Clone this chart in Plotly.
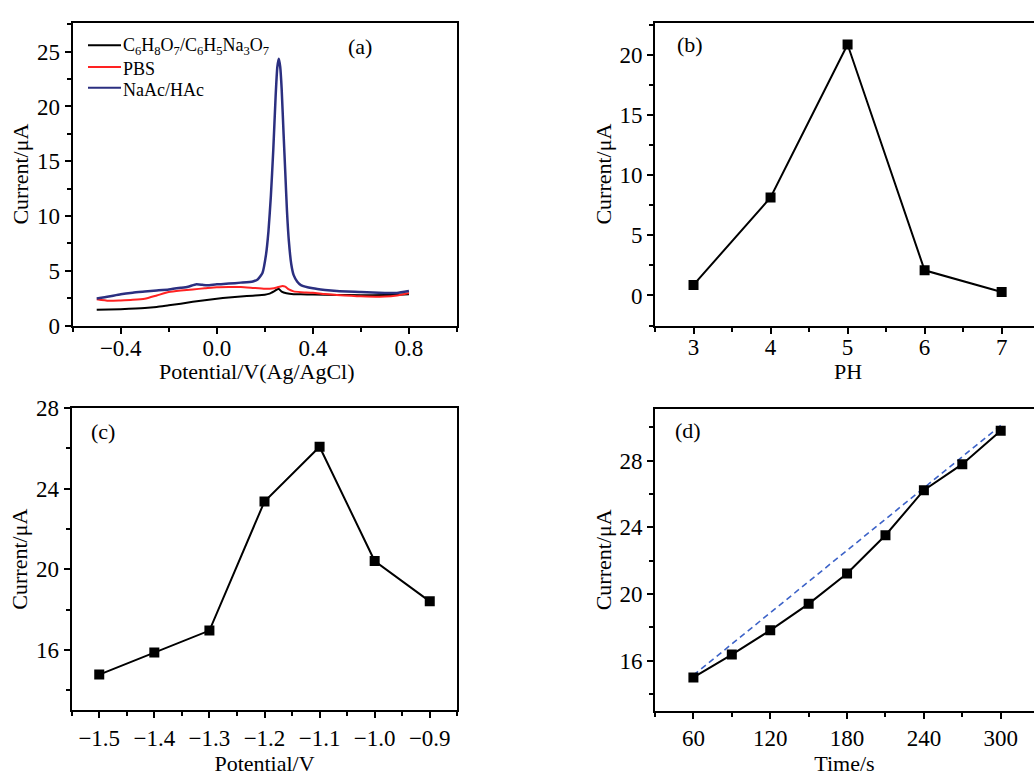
import plotly.graph_objects as go

# ---------------- data ----------------
# (a) DPV curves in different buffers
citrate_x = [-0.5, -0.4, -0.3, -0.25, -0.2, -0.15, -0.1, -0.05, 0.0, 0.05, 0.1, 0.15, 0.2, 0.22, 0.24, 0.257, 0.27, 0.29, 0.32, 0.35, 0.4, 0.5, 0.6, 0.7, 0.8]
citrate_y = [1.44, 1.5, 1.6, 1.7, 1.85, 2.0, 2.17, 2.32, 2.45, 2.56, 2.65, 2.73, 2.82, 2.92, 3.15, 3.36, 3.1, 2.95, 2.87, 2.85, 2.83, 2.8, 2.77, 2.78, 2.86]

pbs_x = [-0.5, -0.45, -0.4, -0.35, -0.3, -0.25, -0.2, -0.15, -0.1, -0.05, 0.0, 0.05, 0.1, 0.15, 0.2, 0.23, 0.25, 0.27, 0.285, 0.3, 0.32, 0.35, 0.4, 0.45, 0.5, 0.6, 0.7, 0.75, 0.8]
pbs_y = [2.41, 2.27, 2.3, 2.35, 2.45, 2.75, 3.06, 3.2, 3.3, 3.4, 3.5, 3.53, 3.52, 3.44, 3.36, 3.38, 3.47, 3.6, 3.55, 3.3, 3.12, 3.05, 3.0, 2.88, 2.8, 2.68, 2.65, 2.75, 2.97]

naac_x = [-0.5, -0.45, -0.4, -0.35, -0.3, -0.25, -0.2, -0.15, -0.12, -0.085, -0.06, -0.04, 0.0, 0.05, 0.1, 0.15, 0.17, 0.19, 0.205, 0.215, 0.225, 0.235, 0.245, 0.252, 0.258, 0.264, 0.27, 0.278, 0.285, 0.292, 0.3, 0.31, 0.32, 0.335, 0.35, 0.4, 0.45, 0.5, 0.6, 0.7, 0.75, 0.8]
naac_y = [2.47, 2.65, 2.86, 3.0, 3.1, 3.2, 3.3, 3.45, 3.55, 3.77, 3.72, 3.68, 3.77, 3.83, 3.92, 4.03, 4.2, 4.8, 6.5, 8.6, 11.8, 16.0, 21.0, 23.6, 24.35, 23.6, 21.6, 17.5, 14.0, 10.5, 7.7, 5.6, 4.6, 4.0, 3.7, 3.4, 3.25, 3.15, 3.06, 2.98, 2.98, 3.15]

legend_names = ["C<sub>6</sub>H<sub>8</sub>O<sub>7</sub>/C<sub>6</sub>H<sub>5</sub>Na<sub>3</sub>O<sub>7</sub>",
                "PBS", "NaAc/HAc"]
legend_colors = ["#000000", "#ff2222", "#2b2f80"]

# (b) pH effect
ph = [3, 4, 5, 6, 7]
ph_current = [0.88, 8.14, 20.85, 2.09, 0.29]

# (c) deposition potential effect
potential = [-1.5, -1.4, -1.3, -1.2, -1.1, -1.0, -0.9]
pot_current = [14.78, 15.87, 16.96, 23.36, 26.07, 20.41, 18.41]

# (d) deposition time effect
time_s = [60, 90, 120, 150, 180, 210, 240, 270, 300]
time_current = [15.0, 16.37, 17.82, 19.41, 21.23, 23.52, 26.22, 27.78, 29.79]
fit_x = [60, 300]
fit_y = [15.13, 30.1]

x_titles = ["Potential/V(Ag/AgCl)", "PH", "Potential/V", "Time/s"]
y_title = "Current/μA"

# ---------------- figure ----------------
FONT = "Liberation Serif, Times New Roman, serif"
W, H = 1034, 777
TICK_SIZE = 23
TITLE_SIZE = 22

fig = go.Figure()

curves = [(citrate_x, citrate_y, 2), (pbs_x, pbs_y, 2), (naac_x, naac_y, 2.5)]
for (cx, cy, lw), name, col in zip(curves, legend_names, legend_colors):
    fig.add_trace(go.Scatter(x=cx, y=cy, mode="lines", name=name,
                             line=dict(color=col, width=lw, shape="spline", smoothing=0.5),
                             showlegend=False, xaxis="x", yaxis="y"))

marker = dict(symbol="square", size=10, color="#000000")
fig.add_trace(go.Scatter(x=ph, y=ph_current, mode="lines+markers",
                         line=dict(color="#000000", width=2), marker=marker,
                         showlegend=False, xaxis="x2", yaxis="y2"))
fig.add_trace(go.Scatter(x=potential, y=pot_current, mode="lines+markers",
                         line=dict(color="#000000", width=2), marker=marker,
                         showlegend=False, xaxis="x3", yaxis="y3"))
fig.add_trace(go.Scatter(x=fit_x, y=fit_y, mode="lines",
                         line=dict(color="#3d63c8", width=1.6, dash="6px,4px"),
                         showlegend=False, xaxis="x4", yaxis="y4"))
fig.add_trace(go.Scatter(x=time_s, y=time_current, mode="lines+markers",
                         line=dict(color="#000000", width=2), marker=marker,
                         showlegend=False, xaxis="x4", yaxis="y4"))


def px_x(p):
    return p / W


def px_y(p):
    return 1 - p / H


def axis(domain, rng, dtick, minor_dtick, title, mirror, anchor, tick0=None,
         standoff=2, fmt=None, label_shift=0):
    d = dict(domain=domain, range=rng, dtick=dtick, showgrid=False, zeroline=False,
             showline=True, linecolor="black", linewidth=2, mirror=mirror,
             ticks="outside", ticklen=6, tickwidth=1.5, tickcolor="black",
             minor=dict(dtick=minor_dtick, ticks="outside", ticklen=4, tickwidth=1.5,
                        tickcolor="black", showgrid=False),
             tickfont=dict(family=FONT, size=TICK_SIZE, color="black"),
             ticklabelstandoff=label_shift,
             anchor=anchor)
    if title:
        d["title"] = dict(text=title, font=dict(family=FONT, size=TITLE_SIZE, color="black"),
                          standoff=standoff)
    if tick0 is not None:
        d["tick0"] = tick0
        d["minor"]["tick0"] = tick0
    if fmt is not None:
        d["tickformat"] = fmt
    return d


fig.update_layout(
    width=W, height=H,
    margin=dict(l=0, r=0, t=0, b=0),
    paper_bgcolor="white", plot_bgcolor="white",
    font=dict(family=FONT, color="black"),
    showlegend=False,
    xaxis=axis([px_x(72.7), px_x(457)], [-0.6, 1.0], 0.4, 0.2, None, True, "y",
               tick0=-0.4, fmt=".1f", label_shift=-5),
    yaxis=axis([px_y(324), px_y(11)], [0, 27.65], 5, 2.5, y_title, True, "x"),
    xaxis2=axis([px_x(655), 1.0], [2.5, 7.42], 1, 0.5, None, True, "y2", label_shift=-6),
    yaxis2=axis([px_y(324), px_y(11)], [-2.5, 22.67], 5, 2.5, y_title, False, "x2"),
    xaxis3=axis([px_x(71.7), px_x(457.3)], [-1.55, -0.85], 0.1, 0.05, x_titles[2], True, "y3",
                tick0=-1.5, fmt=".1f", standoff=2),
    yaxis3=axis([px_y(721.7), px_y(409)], [13, 28], 4, 2, y_title, True, "x3", tick0=0),
    xaxis4=axis([px_x(655), 1.0], [30, 326], 60, 30, x_titles[3], True, "y4", standoff=1),
    yaxis4=axis([px_y(722), px_y(410)], [13, 31.1], 4, 2, y_title, False, "x4", tick0=0),
)

# x-axis titles of the upper panels, placed under each panel
x_title_pos = [(257, 371), (848, 371)]
for text, (tx, ty) in zip(x_titles[:2], x_title_pos):
    fig.add_annotation(text=text, x=px_x(tx), y=px_y(ty), xref="paper", yref="paper",
                       showarrow=False, xanchor="center", yanchor="middle",
                       font=dict(family=FONT, size=TITLE_SIZE, color="black"))

# legend of panel (a), drawn as line samples + labels
legend_lines = [34.3, 56.7, 78.3]
legend_text_y = [35.5, 58.5, 80.5]
for name, col, ly, ty in zip(legend_names, legend_colors, legend_lines, legend_text_y):
    fig.add_shape(type="line", xref="paper", yref="paper",
                  x0=px_x(88), x1=px_x(121), y0=px_y(ly), y1=px_y(ly),
                  line=dict(color=col, width=2))
    fig.add_annotation(text=name, x=px_x(121), y=px_y(ty), xref="paper", yref="paper",
                       showarrow=False, xanchor="left", yanchor="middle",
                       font=dict(family=FONT, size=18, color="black"))

labels = [("(a)", 360, 36), ("(b)", 690, 34), ("(c)", 103, 433), ("(d)", 688, 432)]
for text, x, y in labels:
    fig.add_annotation(text=text, x=px_x(x), y=px_y(y), xref="paper", yref="paper",
                       showarrow=False, font=dict(family=FONT, size=22, color="black"),
                       xanchor="center", yanchor="middle")

fig.write_html("out.html")
